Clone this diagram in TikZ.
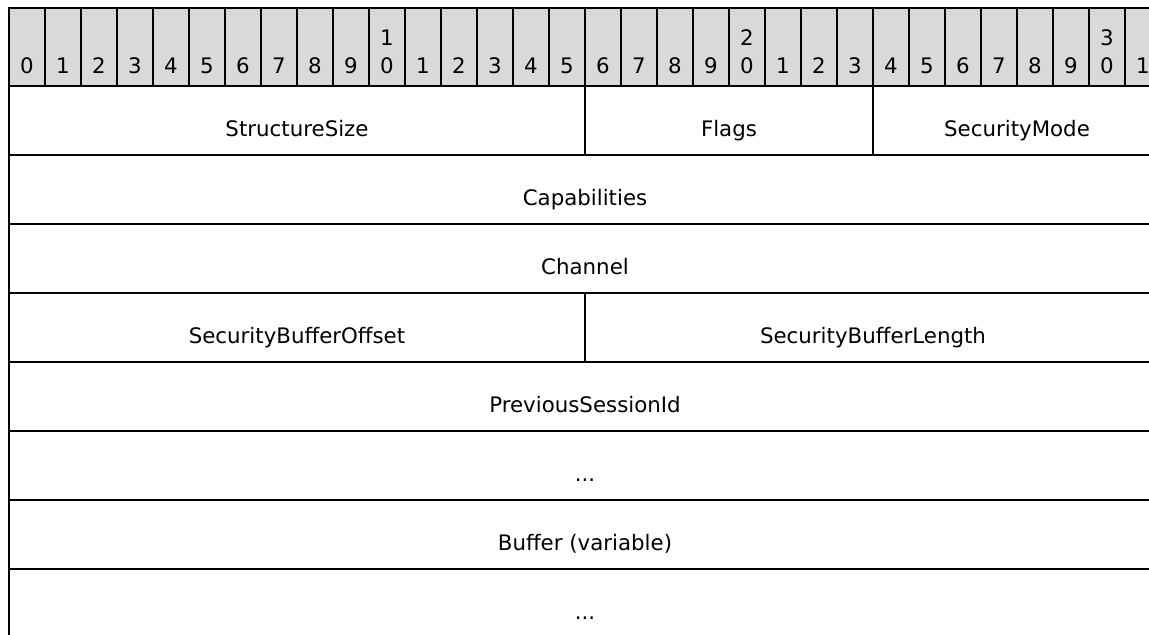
\documentclass[tikz,border=0pt]{standalone}
\usepackage{fontspec}
\setmainfont{DejaVu Sans}
\definecolor{hdrgray}{HTML}{D9D9D9}
\begin{document}
\begin{tikzpicture}[x=0.75pt,y=-0.75pt,line width=1.2pt,
  hdrcell/.style={fill=hdrgray,draw=black},
  rowline/.style={draw=black},
  lbl/.style={anchor=base,inner sep=0pt,font=\fontsize{16}{19}\selectfont}]
\useasboundingbox (0,0) rectangle (1149,635);
\clip (0,0) rectangle (1149,635);
% header cells
\foreach \k in {0,...,31}{
  \draw[hdrcell] ({9+36*\k},8) rectangle ({45+36*\k},86);
}
% header digits
\foreach \k in {0,...,31}{
  \pgfmathtruncatemacro\dd{mod(\k,10)}
  \pgfmathtruncatemacro\tt{div(\k,10)}
  \node[lbl] (b\k) at ({27+36*\k},74) {\dd};
  \ifnum\dd=0 \ifnum\k>0
    \node[lbl] (t\k) at ({27+36*\k},45.7) {\tt};
  \fi\fi
}
% row grid
\draw[rowline] (9,86) -- (9,640);
\foreach \yy in {155,224,293,362,431,500,569}{
  \draw[rowline] (9,\yy) -- (1161,\yy);
}
\draw[rowline] (585,86) -- (585,155);
\draw[rowline] (873,86) -- (873,155);
\draw[rowline] (585,293) -- (585,362);
% field labels
\node[lbl] (ss) at (297,136.5) {StructureSize};
\node[lbl] (fl) at (729,136.5) {Flags};
\node[lbl] (sm) at (1017,136.5) {SecurityMode};
\node[lbl] (cap) at (585,205.5) {Capabilities};
\node[lbl] (ch) at (585,274.5) {Channel};
\node[lbl] (sbo) at (297,343.5) {SecurityBufferOffset};
\node[lbl] (sbl) at (873,343.5) {SecurityBufferLength};
\node[lbl] (psi) at (585,412.5) {PreviousSessionId};
\node[lbl] (d1) at (585,481.5) {...};
\node[lbl] (buf) at (585,550.5) {Buffer (variable)};
\node[lbl] (d2) at (585,619.5) {...};
\end{tikzpicture}
\end{document}
